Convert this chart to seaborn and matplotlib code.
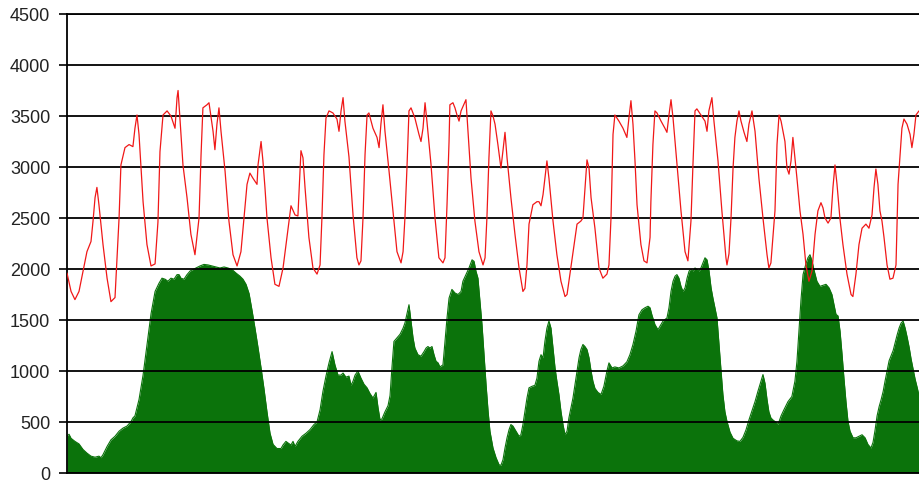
import matplotlib
matplotlib.use("Agg")
import matplotlib.pyplot as plt
import seaborn as sns
import pandas as pd

# three weeks of hourly-ish readings, hours from start
red_hours = [
    0.0, 2.4, 4.7, 7.1, 9.5, 11.8, 14.2, 15.4, 16.6, 17.7, 18.9, 21.3, 23.7, 26.0, 28.4,
    30.8, 31.9, 34.3, 36.7, 39.0, 40.2, 41.4, 42.6, 45.0, 47.3, 49.7, 52.1, 53.8, 55.0,
    56.8, 59.2, 61.5, 63.9, 65.1, 65.7, 66.8, 68.6, 71.0, 73.3, 75.7, 78.1, 79.3, 80.4,
    82.8, 84.0, 86.4, 87.5, 88.7, 89.9, 91.1, 93.5, 95.8, 98.2, 100.6, 102.9, 104.7,
    106.5, 108.2, 110.0, 112.4, 113.0, 114.8, 115.9, 117.1, 118.3, 120.7, 123.0, 125.4,
    127.8, 130.1, 132.5, 134.9, 136.6, 138.4, 139.6, 140.8, 143.1, 145.5, 147.9, 149.7,
    150.8, 152.0, 153.2, 155.0, 157.3, 159.7, 160.9, 162.1, 163.3, 164.4, 166.8, 169.2,
    171.5, 172.7, 173.9, 175.1, 176.3, 177.5, 178.6, 181.0, 183.4, 184.6, 185.7, 186.9,
    188.1, 190.5, 192.8, 195.2, 197.6, 198.8, 199.9, 201.1, 202.3, 203.5, 205.8, 208.2,
    209.4, 210.6, 211.8, 212.9, 215.3, 217.7, 220.0, 222.4, 223.6, 224.8, 226.0, 226.5,
    228.3, 229.5, 230.7, 231.9, 233.1, 236.0, 237.2, 239.0, 241.3, 243.7, 246.1, 247.3,
    248.4, 249.6, 250.8, 252.0, 253.2, 254.9, 256.7, 257.9, 259.1, 260.3, 262.6, 265.0,
    267.4, 269.7, 270.9, 272.1, 273.3, 275.6, 278.0, 279.2, 280.4, 281.6, 283.9, 285.1,
    287.5, 289.8, 292.2, 294.6, 295.8, 296.9, 299.3, 301.7, 304.0, 305.2, 307.6, 308.8,
    310.0, 312.3, 314.7, 317.0, 319.4, 320.6, 321.8, 323.0, 324.1, 326.5, 328.9, 331.2,
    332.4, 333.6, 334.8, 336.0, 337.2, 339.5, 341.3, 343.1, 344.9, 345.4, 346.6, 347.8,
    349.0, 351.4, 353.7, 354.9, 356.1, 357.3, 358.5, 360.8, 363.2, 365.6, 367.3, 369.1,
    370.3, 371.5, 372.6, 375.0, 377.4, 378.6, 379.7, 381.5, 382.7, 385.1, 387.4, 389.8,
    390.4, 391.6, 392.8, 394.0, 395.1, 396.3, 397.5, 398.7, 400.5, 402.2, 403.4, 405.2,
    407.0, 409.3, 411.7, 414.1, 415.2, 416.4, 418.8, 420.0, 421.2, 422.4, 424.7, 425.9,
    427.1, 428.3, 429.4, 430.6, 431.8, 433.6, 435.4, 437.1, 438.9, 440.7, 442.5, 444.2,
    446.0, 447.2, 448.4, 450.2, 451.9, 453.1, 454.3, 455.5, 457.2, 459.0, 461.4, 463.8,
    464.9, 466.7, 468.5, 470.3, 472.6, 474.4, 476.2, 477.4, 478.5, 479.7, 480.9, 482.1,
    483.3, 485.1, 486.8, 488.6, 490.4, 491.6, 492.7, 493.9, 495.1, 496.9, 498.7, 499.8,
    501.0, 502.2, 504.0,
]
red_values = [
    1960, 1780, 1700, 1780, 1980, 2170, 2270, 2470, 2700, 2800, 2630, 2240, 1910, 1680, 1720,
    2500, 3020, 3190, 3220, 3200, 3380, 3510, 3320, 2660, 2240, 2030, 2050, 2460, 3150,
    3510, 3550, 3500, 3380, 3680, 3750, 3480, 3020, 2700, 2340, 2140, 2500, 3120, 3580,
    3610, 3630, 3350, 3170, 3420, 3580, 3350, 2960, 2470, 2140, 2030, 2170, 2500,
    2830, 2940, 2890, 2830, 3020, 3250, 3060, 2800, 2500, 2110, 1850, 1830,
    2010, 2310, 2620, 2530, 2520, 3160, 3090, 2800, 2310, 2010, 1950, 2040,
    2500, 3120, 3480, 3550, 3530, 3470, 3350, 3550, 3680, 3450, 3100, 2530,
    2110, 2040, 2080, 2500, 3120, 3510, 3530, 3380, 3290, 3190, 3420, 3610,
    3350, 2960, 2570, 2170, 2060, 2170, 2500, 2990, 3550, 3580, 3480, 3320,
    3250, 3380, 3630, 3450, 3030, 2500, 2110, 2060, 2110, 2630, 3250, 3610,
    3630, 3580, 3510, 3450, 3550, 3660, 3350, 2890, 2470, 2170, 2040, 2110,
    2500, 3090, 3550, 3500, 3420, 3220, 2990, 3160, 3340, 3090, 2700, 2340,
    2010, 1780, 1810, 2040, 2440, 2630, 2660, 2660, 2620, 2730, 3060, 2890,
    2470, 2140, 1880, 1730, 1750, 1880, 2170, 2440, 2470, 2500, 3070, 2990,
    2700, 2400, 2010, 1910, 1950, 2040, 2500, 3320, 3510, 3450, 3380, 3290,
    3480, 3650, 3420, 3060, 2630, 2240, 2080, 2060, 2310, 2660, 3220, 3550,
    3530, 3450, 3380, 3340, 3510, 3660, 3480, 3030, 2570, 2170, 2080, 2470,
    3030, 3550, 3570, 3510, 3450, 3350, 3550, 3680, 3450, 3060, 2570, 2110,
    2040, 2150, 2500, 2990, 3290, 3450, 3550, 3450, 3340, 3250, 3420, 3550,
    3350, 2890, 2500, 2140, 2010, 2060, 2570, 3220, 3510, 3450, 3250, 2990,
    2930, 3060, 3290, 3090, 2890, 2570, 2340, 2040, 1880, 1980, 2340, 2570,
    2650, 2600, 2500, 2450, 2500, 2800, 3020, 2830, 2500, 2240, 1950, 1750,
    1730, 1950, 2240, 2400, 2440, 2400, 2530, 2800, 2980, 2830, 2570, 2470,
    2310, 2040, 1900, 1910, 2040, 2830, 3090, 3380, 3470, 3420, 3320, 3190,
    3320, 3510, 3550,
]

green_hours = [
    0.0, 1.2, 2.4, 4.7, 7.1, 9.5, 11.8, 14.2, 16.6, 18.9, 20.1, 21.3, 23.7, 26.0, 28.4,
    30.8, 33.1, 35.5, 37.9, 39.0, 40.2, 41.4, 42.6, 45.0, 47.3, 49.7, 52.1, 54.4, 56.2,
    58.0, 59.7, 61.5, 63.3, 65.1, 66.3, 67.4, 69.2, 71.0, 72.8, 74.5, 76.3, 78.7, 81.0,
    83.4, 85.8, 88.1, 90.5, 92.9, 95.2, 97.6, 100.0, 102.3, 104.1, 105.9, 107.7, 109.4,
    111.2, 113.0, 114.8, 116.5, 118.3, 120.1, 121.9, 124.2, 126.6, 127.8, 129.5, 130.7,
    132.5, 133.7, 134.9, 136.6, 139.0, 141.4, 143.7, 146.1, 147.9, 149.7, 151.4, 153.2,
    155.0, 156.8, 158.5, 160.3, 162.1, 163.3, 165.0, 166.8, 168.0, 169.2, 170.4, 172.1,
    173.9, 175.7, 177.5, 179.2, 181.0, 182.8, 184.0, 185.2, 186.3, 188.1, 189.9, 191.1,
    192.2, 193.4, 195.2, 197.0, 198.8, 199.9, 201.1, 202.3, 203.5, 204.7, 205.8, 207.6,
    209.4, 211.2, 212.4, 213.5, 214.7, 215.9, 217.1, 218.3, 219.5, 220.6, 222.4, 223.6,
    224.8, 226.0, 227.7, 229.5, 231.3, 233.1, 234.2, 236.0, 237.8, 239.6, 240.8, 241.9,
    243.1, 244.3, 245.5, 246.7, 247.9, 249.1, 250.2, 252.0, 253.8, 255.6, 256.7, 257.9,
    259.1, 260.3, 261.5, 262.6, 263.8, 265.6, 267.4, 268.5, 269.7, 270.9, 272.1, 273.3,
    275.1, 276.8, 278.0, 279.2, 280.4, 281.6, 282.7, 283.9, 285.1, 286.3, 287.5, 288.7,
    289.8, 291.0, 292.2, 293.4, 294.6, 295.8, 296.9, 298.1, 299.3, 300.5, 301.7, 302.9,
    304.0, 305.2, 306.4, 307.6, 308.8, 310.0, 311.1, 312.3, 314.1, 315.9, 317.6, 319.4,
    320.6, 322.4, 324.1, 326.5, 328.9, 331.2, 333.0, 334.8, 336.6, 338.3, 340.1, 341.9,
    343.7, 344.9, 346.0, 347.8, 349.6, 350.8, 352.6, 353.7, 354.9, 356.1, 357.3, 358.5,
    359.7, 360.8, 362.0, 363.2, 364.4, 365.6, 366.8, 368.0, 369.1, 370.3, 371.5, 372.7,
    373.9, 375.0, 376.2, 377.4, 378.6, 379.8, 381.0, 382.1, 383.3, 384.5, 385.7, 386.9,
    388.0, 389.2, 390.4, 392.2, 394.0, 396.3, 398.1, 399.9, 401.6, 403.4, 405.2, 407.0,
    408.7, 410.5, 411.7, 412.9, 414.1, 415.2, 416.4, 417.6, 418.8, 420.6, 422.4, 424.1,
    426.5, 428.8, 430.6, 431.8, 433.0, 434.2, 435.4, 437.1, 438.3, 439.5, 440.7, 441.9,
    443.6, 445.4, 447.2, 449.0, 450.8, 452.5, 453.7, 454.9, 456.1, 457.3, 458.5, 459.6,
    460.8, 462.0, 463.2, 465.0, 466.7, 468.5, 470.3, 472.1, 473.8, 475.6, 476.8, 478.0,
    479.2, 480.4, 481.6, 482.8, 483.9, 485.1, 486.3, 487.5, 488.7, 489.9, 491.0, 492.2,
    493.4, 494.6, 495.8, 497.0, 498.2, 499.3, 500.5, 501.7, 502.9, 504.0,
]
green_values = [
    360, 380, 340, 310, 285, 230, 195, 165, 155, 165, 150, 180, 260, 325, 360,
    410, 440, 460, 505, 540, 560, 640, 720, 960, 1250, 1560, 1780, 1860, 1910,
    1900, 1880, 1910, 1900, 1945, 1945, 1910, 1900, 1945, 1980, 1995, 2010, 2030, 2045,
    2040, 2030, 2020, 2010, 2020, 2010, 1995, 1960, 1930, 1900, 1850, 1760, 1600,
    1420, 1230, 1030, 830, 600, 390, 280, 240, 240, 275, 310, 295,
    275, 310, 260, 310, 360, 390, 425, 475, 500, 620, 800, 950,
    1080, 1190, 1060, 960, 960, 980, 940, 950, 860, 900, 960, 1000,
    930, 870, 835, 780, 735, 790, 640, 520, 530, 600, 660, 760,
    1030, 1290, 1325, 1360, 1420, 1470, 1560, 1650, 1490, 1325, 1225, 1160,
    1145, 1190, 1225, 1240, 1225, 1240, 1160, 1095, 1080, 1040, 1060, 1290,
    1520, 1715, 1800, 1765, 1750, 1780, 1880, 1945, 2010, 2090, 2075, 1980,
    1910, 1680, 1455, 1160, 865, 605, 410, 245, 150, 80, 75, 130,
    245, 345, 425, 475, 460, 410, 360, 375, 475, 605, 735, 835,
    850, 860, 930, 1095, 1160, 1130, 1290, 1420, 1490, 1420, 1225, 1030,
    900, 770, 605, 475, 375, 410, 540, 640, 735, 865, 1000, 1130,
    1210, 1260, 1240, 1210, 1130, 1000, 900, 830, 790, 770, 850, 1000,
    1080, 1030, 1040, 1030, 1050, 1090, 1160, 1260, 1390, 1550, 1600, 1620,
    1635, 1620, 1550, 1455, 1405, 1440, 1490, 1505, 1520, 1620, 1780, 1880,
    1930, 1945, 1910, 1830, 1780, 1815, 1910, 1980, 1995, 1980, 2010, 1995,
    1980, 2010, 2060, 2110, 2090, 1980, 1815, 1715, 1620, 1520, 1260, 1000,
    770, 600, 507, 400, 340, 315, 310, 350, 420, 520, 610, 700,
    800, 900, 965, 880, 720, 600, 540, 520, 505, 475, 560, 620,
    700, 750, 900, 1095, 1400, 1700, 1945, 2050, 2110, 2140, 2080, 1990,
    1880, 1830, 1840, 1850, 1815, 1750, 1650, 1555, 1540, 1390, 1160, 930,
    700, 505, 410, 345, 345, 360, 375, 345, 280, 245, 300, 420,
    560, 650, 720, 800, 900, 1000, 1100, 1150, 1200, 1280, 1350, 1420,
    1470, 1490, 1420, 1330, 1230, 1120, 1020, 920, 840, 760,
]

y_ticks = list(range(0, 4501, 500))

red = pd.DataFrame({"hour": red_hours, "value": red_values})
green = pd.DataFrame({"hour": green_hours, "value": green_values})

sns.set_style("white")
plt.rcParams["font.family"] = ["Liberation Sans", "DejaVu Sans"]

fig = plt.figure(figsize=(9.19, 4.83), dpi=100)
ax = fig.add_axes([0.0729, 0.0207, 0.9271, 0.9503])

green_col = "#0b730b"
ax.fill_between(green["hour"], 0, green["value"], color=green_col, linewidth=0, zorder=1)
sns.lineplot(data=green, x="hour", y="value", ax=ax, color=green_col, linewidth=0.8,
             zorder=1.5, sort=False)
sns.lineplot(data=red, x="hour", y="value", ax=ax, color="#f01818", linewidth=0.9,
             zorder=3, sort=False)

ax.set_xlim(0, 504)
ax.set_ylim(0, 4500)
ax.set_yticks(y_ticks)
ax.set_xticks([])
ax.set_xlabel("")
ax.set_ylabel("")

ax.yaxis.grid(True, color="black", linewidth=1.3)
ax.set_axisbelow(False)
ax.spines["right"].set_visible(False)
for side in ["left", "bottom", "top"]:
    ax.spines[side].set_color("black")
    ax.spines[side].set_linewidth(1.3)

ax.tick_params(axis="y", direction="out", length=6, width=1.2, color="black",
               labelsize=13, labelcolor="#222222", pad=6, left=True)

fig.savefig("out.png", dpi=100)
